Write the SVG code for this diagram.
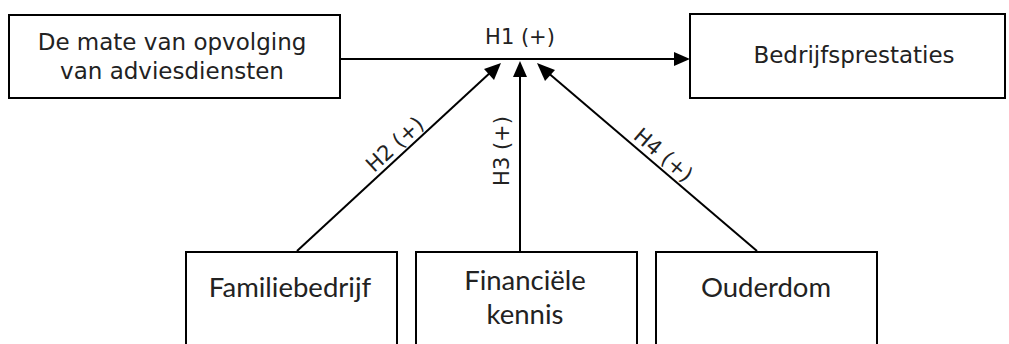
<svg xmlns="http://www.w3.org/2000/svg" width="1009" height="344" viewBox="0 0 1009 344">
<style>
.box{fill:#fff;stroke:#000;stroke-width:2}
.v{font-family:"DejaVu Sans",Verdana,sans-serif;font-size:23px;fill:#222;text-anchor:middle}
.c{font-family:Lato,"Open Sans",sans-serif;font-size:27.5px;fill:#222;text-anchor:middle}
.lbl{font-family:"DejaVu Sans",Verdana,sans-serif;font-size:21px;fill:#222;text-anchor:middle}
.ln{stroke:#000;stroke-width:2;fill:none}
.ah{fill:#000}
</style>
<g id="connectors">
<line class="ln" x1="340" y1="59" x2="676" y2="59"/>
<path class="ah" d="M674,52 L690,59 L674,66 Z"/>
<line class="ln" x1="297" y1="251" x2="492" y2="71"/>
<path class="ah" d="M501,63 L494,80 L484,69 Z"/>
<line class="ln" x1="520" y1="251" x2="520" y2="74"/>
<path class="ah" d="M520,61 L527,77 L513,77 Z"/>
<line class="ln" x1="757" y1="251" x2="546" y2="71"/>
<path class="ah" d="M537,63 L555,70 L545,81 Z"/>
<text class="lbl" x="520" y="44">H1 (+)</text>
<text class="lbl" transform="translate(399.6,149.6) rotate(-42.6)">H2 (+)</text>
<text class="lbl" transform="translate(509,151) rotate(-90)">H3 (+)</text>
<text class="lbl" transform="translate(658.7,160.5) rotate(40.5)">H4 (+)</text>
</g>
<g id="node-opvolging">
<rect class="box" x="9" y="15" width="331" height="83"/>
<text class="v" x="172" y="50">De mate van opvolging</text>
<text class="v" x="172" y="79">van adviesdiensten</text>
</g>
<g id="node-bedrijfsprestaties">
<rect class="box" x="690" y="14" width="315" height="84"/>
<text class="v" x="854" y="63">Bedrijfsprestaties</text>
</g>
<g id="node-familiebedrijf">
<rect class="box" x="186" y="252" width="211" height="100"/>
<text class="c" x="290" y="297">Familiebedrijf</text>
</g>
<g id="node-financiele">
<rect class="box" x="416" y="252" width="221" height="100"/>
<text class="c" x="525" y="290">Financiële</text>
<text class="c" x="525" y="324">kennis</text>
</g>
<g id="node-ouderdom">
<rect class="box" x="656" y="252" width="221" height="100"/>
<text class="c" x="766" y="297">Ouderdom</text>
</g>
</svg>
